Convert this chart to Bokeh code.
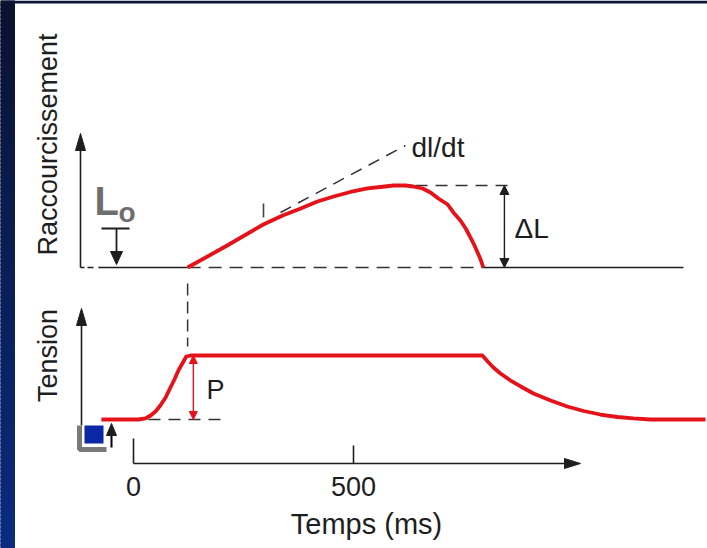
import numpy as np
from bokeh.plotting import figure
from bokeh.models import Range1d, Arrow, NormalHead
from bokeh.core.properties import value
from bokeh.embed import file_html
from bokeh.resources import INLINE

# ---------------- data ----------------
# time axis (ms)
time_ticks = [0, 500]
time_tick_labels = ["0", "500"]

# muscle shortening (relative units, peak = delta L)
short_t = [123, 209, 295, 339, 380, 418, 455, 493, 532, 561, 591, 618, 636,
           657, 675, 693, 714, 727, 743, 755, 766, 775, 782, 789, 795]
short_v = [0.0, 0.253, 0.518, 0.627, 0.711, 0.795, 0.855, 0.910, 0.952,
           0.970, 0.988, 0.988, 0.976, 0.952, 0.904, 0.831, 0.759, 0.663,
           0.566, 0.470, 0.361, 0.265, 0.181, 0.096, 0.0]

# resting length L0 baseline (start / end, ms)
rest_t = [-80, 1250]

# tangent giving dl/dt
tangent_t = [334, 618]
tangent_v = [0.663, 1.47]

# tension (relative to plateau P = 1)
tension_t = [-73, 11, 27, 39, 50, 61, 73, 84, 93, 102, 111, 120, 130, 793,
             805, 818, 834, 857, 880, 909, 948, 986, 1023, 1061, 1100, 1136,
             1175, 1300]
tension_v = [0.0, 0.0, 0.016, 0.0625, 0.125, 0.219, 0.344, 0.5, 0.625, 0.766,
             0.875, 0.984, 1.0, 1.0, 0.906, 0.813, 0.719, 0.609, 0.516, 0.406,
             0.297, 0.203, 0.133, 0.078, 0.039, 0.016, 0.0, 0.0]

# ---------------- layout ----------------
W, H = 707, 548
T0_PX, PX_PER_MS = 133, 0.44          # time scale
SHORT_BASE_PX, SHORT_UNIT_PX = 267, 83  # shortening scale
TENS_BASE_PX, TENS_UNIT_PX = 419, 64    # tension scale

RED = "#e5121a"
INK = "#1e1e1e"
DASH = "#333333"
FONT = "Liberation Sans"

p = figure(width=W, height=H, output_backend="svg", toolbar_location=None,
           x_range=Range1d(0, W), y_range=Range1d(H, 0),
           min_border=0, outline_line_color=None,
           background_fill_color="white", border_fill_color="white")
p.axis.visible = False
p.grid.visible = False

p.extra_x_ranges = {"time": Range1d(-T0_PX / PX_PER_MS, (W - T0_PX) / PX_PER_MS)}
p.extra_y_ranges = {
    "short": Range1d(-(H - SHORT_BASE_PX) / SHORT_UNIT_PX, SHORT_BASE_PX / SHORT_UNIT_PX),
    "tension": Range1d(-(H - TENS_BASE_PX) / TENS_UNIT_PX, TENS_BASE_PX / TENS_UNIT_PX),
}

# slide frame: dark blue strip on the left (vertical gradient) and on top
band = 4
ys = np.arange(0, H, band)
frac = ys / H
cols = ["#%02x%02x%02x" % (10, int(18 + 26 * f), int(48 + 80 * f)) for f in frac]
p.quad(left=0, right=14, top=ys, bottom=ys + band + 1, fill_color=cols,
       line_color=cols, line_width=1)
p.quad(left=[0], right=[W], top=[0], bottom=[3], fill_color="#0b1636", line_color=None)


def head(x, y, direction, length, half):
    """Filled triangular arrow head in canvas pixels, tip at (x, y)."""
    if direction == "up":
        xs, ys_ = [x, x - half, x + half], [y, y + length, y + length]
    elif direction == "down":
        xs, ys_ = [x, x - half, x + half], [y, y - length, y - length]
    else:  # right
        xs, ys_ = [x, x - length, x - length], [y, y - half, y + half]
    p.patch(xs, ys_, fill_color=INK, line_color=INK, line_width=1)


def ptext(x, y, s, size, align="left", baseline="middle", angle=0.0,
          color=INK, style="normal", **kw):
    p.text(x=[x], y=[y], text=[s], text_font=value(FONT),
           text_font_size=f"{size}px", text_align=align, text_baseline=baseline,
           angle=angle, text_color=color, text_font_style=style, **kw)


# ---------------- upper panel: shortening ----------------
p.line([80, 80], [267, 148], line_color=INK, line_width=1.6)
head(80, 133, "up", 17, 5)
p.line([80, 84], [267, 267], line_color=INK, line_width=1.6)
p.line([87, 93], [267, 267], line_color=INK, line_width=1.6)

sh = dict(x_range_name="time", y_range_name="short")
p.line([rest_t[0], short_t[0]], [0, 0], line_color=INK, line_width=1.6, **sh)
p.line([short_t[0], short_t[-1]], [0, 0], line_color=DASH, line_width=1.6,
       line_dash="13 8", **sh)
p.line([short_t[-1], rest_t[1]], [0, 0], line_color=INK, line_width=1.6, **sh)

peak = max(short_v)
p.line([641, 861], [peak, peak], line_color=DASH, line_width=1.5, line_dash="12 8", **sh)
p.line(tangent_t, tangent_v, line_color=DASH, line_width=1.5, line_dash="12 8", **sh)
p.line([263, 263], [203, 217], line_color="#444444", line_width=1.6)

p.line(short_t, short_v, line_color=RED, line_width=3.8, line_join="round", **sh)

p.add_layout(Arrow(x_start=843, y_start=0, x_end=843, y_end=peak,
                   start=NormalHead(size=9, fill_color=INK, line_color=INK),
                   end=NormalHead(size=9, fill_color=INK, line_color=INK),
                   line_color=INK, line_width=1.4, **sh))

ptext(411, 147, "dl/dt", 28)
ptext(514, 228, "ΔL", 28)

# L0 marker
ptext(94, 200, "L", 40, color="#6e6e6e", style="bold")
ptext(118, 212, "o", 28, color="#6e6e6e", style="bold")
p.line([101, 129], [228, 228], line_color=INK, line_width=1.8)
p.line([116, 116], [228, 252], line_color=INK, line_width=1.8)
head(116, 264, "down", 13, 6)

ptext(47, 144, "Raccourcissement", 27, align="center", angle=np.pi / 2)

# dashed connector between the panels at contraction onset
p.line([short_t[0], short_t[0]], [283, 346], line_color=DASH, line_width=1.5,
       line_dash="12 6", x_range_name="time")

# ---------------- lower panel: tension ----------------
p.line([81, 81], [425, 324], line_color=INK, line_width=1.6)
head(81, 308, "up", 17, 5)
p.line([79, 79, 106], [425, 449, 449], line_color="#7a7a7a", line_width=5)
p.quad(left=[84], right=[103], top=[425], bottom=[443], fill_color="#0b27a3",
       line_color=None)
p.line([111, 111], [447, 433], line_color="black", line_width=2)
head(111, 423, "up", 12, 5)

tn = dict(x_range_name="time", y_range_name="tension")
p.line([34, 198], [0, 0], line_color=DASH, line_width=1.5, line_dash="12 8", **tn)
p.line(tension_t, tension_v, line_color=RED, line_width=3.8, line_join="round", **tn)
p.add_layout(Arrow(x_start=136, y_start=0, x_end=136, y_end=1.0,
                   start=NormalHead(size=8, fill_color=RED, line_color=RED),
                   end=NormalHead(size=8, fill_color=RED, line_color=RED),
                   line_color=RED, line_width=1.4, **tn))
ptext(206, 389, "P", 27)

ptext(47, 355, "Tension", 27, align="center", angle=np.pi / 2)

# ---------------- time axis ----------------
axis_y = 463
p.line([T0_PX, 566], [axis_y, axis_y], line_color=INK, line_width=1.6)
head(580, axis_y, "right", 16, 5)
p.segment(x0=time_ticks, y0=[438, 445], x1=time_ticks, y1=[axis_y, axis_y],
          line_color=INK, line_width=1.6, x_range_name="time")
p.text(x=time_ticks, y=[486, 486], text=time_tick_labels, x_range_name="time",
       text_font=value(FONT), text_font_size="27px", text_align="center",
       text_baseline="middle", text_color=INK)
ptext(366, 523, "Temps (ms)", 29, align="center")

open("out.html", "w").write(file_html(p, INLINE))
